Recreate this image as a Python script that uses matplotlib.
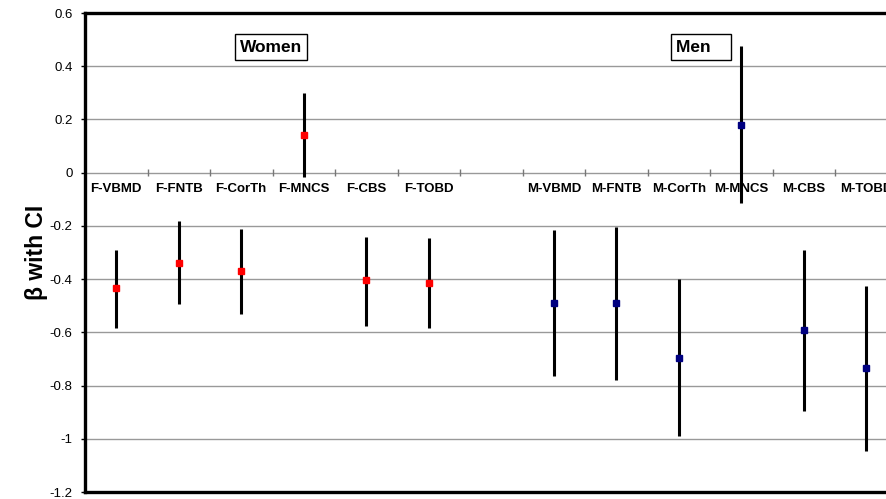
import numpy as np
import matplotlib.pyplot as plt

plt.rcParams['font.family'] = ['Liberation Sans', 'DejaVu Sans']

# ===== 데이터 =====
categories = ["F-VBMD", "F-FNTB", "F-CorTh", "F-MNCS", "F-CBS", "F-TOBD", "",
              "M-VBMD", "M-FNTB", "M-CorTh", "M-MNCS", "M-CBS", "M-TOBD"]
women_beta = [-0.435, -0.338, -0.370, 0.143, -0.405, -0.413]
women_lo = [-0.585, -0.495, -0.530, -0.015, -0.577, -0.585]
women_hi = [-0.290, -0.180, -0.210, 0.300, -0.240, -0.245]
men_beta = [-0.490, -0.490, -0.695, 0.180, -0.593, -0.735]
men_lo = [-0.765, -0.780, -0.990, -0.113, -0.897, -1.046]
men_hi = [-0.215, -0.205, -0.400, 0.475, -0.290, -0.427]
yticks = [0.6, 0.4, 0.2, 0, -0.2, -0.4, -0.6, -0.8, -1, -1.2]

# ===== 그림 =====
fig = plt.figure(figsize=(8.87, 4.99), dpi=100)
ax = fig.add_axes([85 / 887, 7 / 499, 812.5 / 887, 479 / 499])

xw = np.arange(6)
xm = np.arange(7, 13)

ax.vlines(xw, women_lo, women_hi, color="black", lw=2.2, zorder=3)
ax.vlines(xm, men_lo, men_hi, color="black", lw=2.2, zorder=3)
ax.plot(xw, women_beta, "s", color="#ff0000", ms=5, mec="#ff0000", zorder=4)
ax.plot(xm, men_beta, "s", color="#000080", ms=5, mec="#000080", zorder=4)

ax.set_xlim(-0.5, len(categories) - 0.5)
ax.set_ylim(-1.2, 0.6)
ax.set_yticks(yticks)
ax.set_yticklabels([f"{t:g}" for t in yticks], fontsize=9.5)
ax.yaxis.grid(True, color="#999999", lw=1.0)
ax.set_axisbelow(True)
ax.set_xticks([])
ax.tick_params(axis="y", length=3, width=1, pad=6)

# 0 축의 카테고리 라벨과 눈금
for i, c in enumerate(categories):
    ax.annotate(c, (i, 0), xytext=(0, -12), textcoords="offset points",
                ha="center", va="center", fontsize=9.5, fontweight="bold")
bounds = np.arange(len(categories)) + 0.5
ax.vlines(bounds, -0.012, 0.012, color="#777777", lw=1.0)

for s in ["left", "top", "bottom", "right"]:
    ax.spines[s].set_linewidth(2.4)

ax.set_ylabel("β with CI", fontsize=16.5, fontweight="bold", labelpad=1)

box = dict(boxstyle="square,pad=0.3", fc="white", ec="black", lw=1.0)
ax.text(2.476, 0.472, "Women", ha="center", va="center", fontsize=12.5,
        fontweight="bold", bbox=box)
ax.text(9.356, 0.472, "Men   ", ha="center", va="center", fontsize=12.5,
        fontweight="bold", bbox=box)

fig.savefig("out.png", dpi=100)
